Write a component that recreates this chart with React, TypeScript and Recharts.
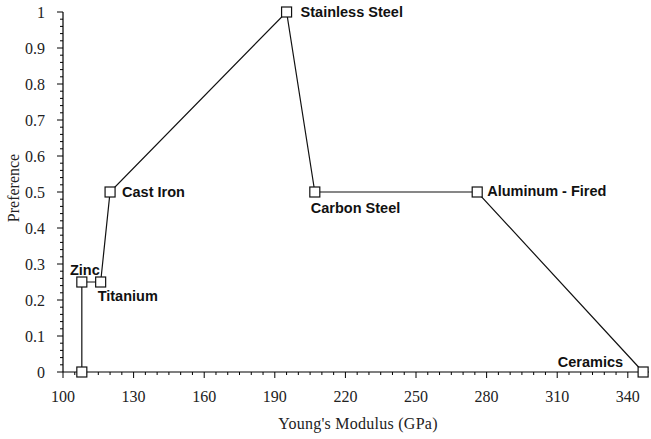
import { LineChart, Line, XAxis, YAxis } from 'recharts'

// Young's modulus (GPa) and preference per material, in path order
const materials = ['', 'Zinc', 'Titanium', 'Cast Iron', 'Stainless Steel', 'Carbon Steel', 'Aluminum - Fired', 'Ceramics']
const modulus = [108, 108, 116, 120, 195, 207, 276, 346.5]
const preference = [0, 0.25, 0.25, 0.5, 1, 0.5, 0.5, 0]

const xMajorTicks = [100, 130, 160, 190, 220, 250, 280, 310, 340]
const yMajorTicks = [0, 0.1, 0.2, 0.3, 0.4, 0.5, 0.6, 0.7, 0.8, 0.9, 1]

// minor ticks every 5 GPa and every 0.02
const xTicks: number[] = []
for (let v = 100; v <= 345; v += 5) xTicks.push(v)
const yTicks: number[] = []
for (let i = 0; i <= 50; i++) yTicks.push(Math.round(i * 2) / 100)

const data = modulus.map((x, i) => ({ x, y: preference[i], name: materials[i] }))

// label placement relative to the marker centre
const labelPos: Record<string, { dx: number; dy: number; anchor: 'start' | 'middle' | 'end' }> = {
    'Zinc': { dx: 3, dy: -12, anchor: 'middle' },
    'Titanium': { dx: -3, dy: 14, anchor: 'start' },
    'Cast Iron': { dx: 12, dy: 0, anchor: 'start' },
    'Stainless Steel': { dx: 14, dy: 0, anchor: 'start' },
    'Carbon Steel': { dx: -4, dy: 16, anchor: 'start' },
    'Aluminum - Fired': { dx: 10, dy: -1, anchor: 'start' },
    'Ceramics': { dx: -20, dy: -10, anchor: 'end' },
}

const serif = '"Liberation Serif", "DejaVu Serif", serif'
const sans = '"Liberation Sans", Arial, sans-serif'
const MINOR = 3

// tick y here is already MINOR px below the axis line
const renderXTick = (props: any) => {
    const x = Number(props.x)
    const y = Number(props.y)
    const v = props.payload.value
    if (!xMajorTicks.includes(v)) return <g />
    return (
        <g>
            <line x1={x} x2={x} y1={y} y2={y + 3} stroke="#000" strokeWidth={1} />
            <text x={x} y={y + 27} textAnchor="middle" fontFamily={serif} fontSize={16} fill="#222">
                {v}
            </text>
        </g>
    )
}

const renderYTick = (props: any) => {
    const x = Number(props.x)
    const y = Number(props.y)
    const v = props.payload.value
    if (!yMajorTicks.some((t) => Math.abs(t - v) < 1e-6)) return <g />
    return (
        <g>
            <line x1={x} x2={x - 3} y1={y} y2={y} stroke="#000" strokeWidth={1} />
            <text x={x - 15} y={y} textAnchor="end" dominantBaseline="central" fontFamily={serif} fontSize={16} fill="#222">
                {String(Math.round(v * 10) / 10)}
            </text>
        </g>
    )
}

const SquareDot = (props: any) => {
    const { cx, cy, payload, index } = props
    const pos = labelPos[payload.name]
    return (
        <g key={`dot-${index}`}>
            <rect x={cx - 5} y={cy - 5} width={10} height={10} fill="#fff" stroke="#111" strokeWidth={1.2} />
            {pos && (
                <text
                    x={cx + pos.dx}
                    y={cy + pos.dy}
                    textAnchor={pos.anchor}
                    dominantBaseline="central"
                    fontFamily={sans}
                    fontWeight="bold"
                    fontSize={14.5}
                    fill="#111"
                >
                    {payload.name}
                </text>
            )}
        </g>
    )
}

export default function App() {
    return (
        <div style={{ position: 'absolute', left: 0, top: 0, width: 651, height: 439, background: '#fff' }}>
            <LineChart width={651} height={439} data={data} margin={{ top: 12, right: 2, left: 0, bottom: 0 }}>
                <XAxis
                    type="number"
                    dataKey="x"
                    domain={[100, 349]}
                    ticks={xTicks}
                    interval={0}
                    tick={renderXTick}
                    tickLine={{ stroke: '#000', strokeWidth: 1 }}
                    tickSize={MINOR}
                    tickMargin={0}
                    height={67}
                    axisLine={{ stroke: '#000', strokeWidth: 1.2 }}
                    allowDataOverflow
                />
                <YAxis
                    type="number"
                    dataKey="y"
                    domain={[0, 1]}
                    ticks={yTicks}
                    interval={0}
                    tick={renderYTick}
                    tickLine={{ stroke: '#000', strokeWidth: 1 }}
                    tickSize={MINOR}
                    tickMargin={0}
                    width={63}
                    axisLine={{ stroke: '#000', strokeWidth: 1.2 }}
                />
                <Line
                    type="linear"
                    dataKey="y"
                    stroke="#111"
                    strokeWidth={1.2}
                    dot={SquareDot}
                    activeDot={false}
                    isAnimationActive={false}
                />
                <text x={358} y={423} textAnchor="middle" dominantBaseline="central" fontFamily={serif} fontSize={16} fill="#222" letterSpacing={0.25}>
                    Young's Modulus (GPa)
                </text>
                <text
                    x={13}
                    y={188}
                    textAnchor="middle"
                    dominantBaseline="central"
                    fontFamily={serif}
                    fontSize={16}
                    fill="#222"
                    transform="rotate(-90 13 188)"
                >
                    Preference
                </text>
            </LineChart>
        </div>
    )
}
